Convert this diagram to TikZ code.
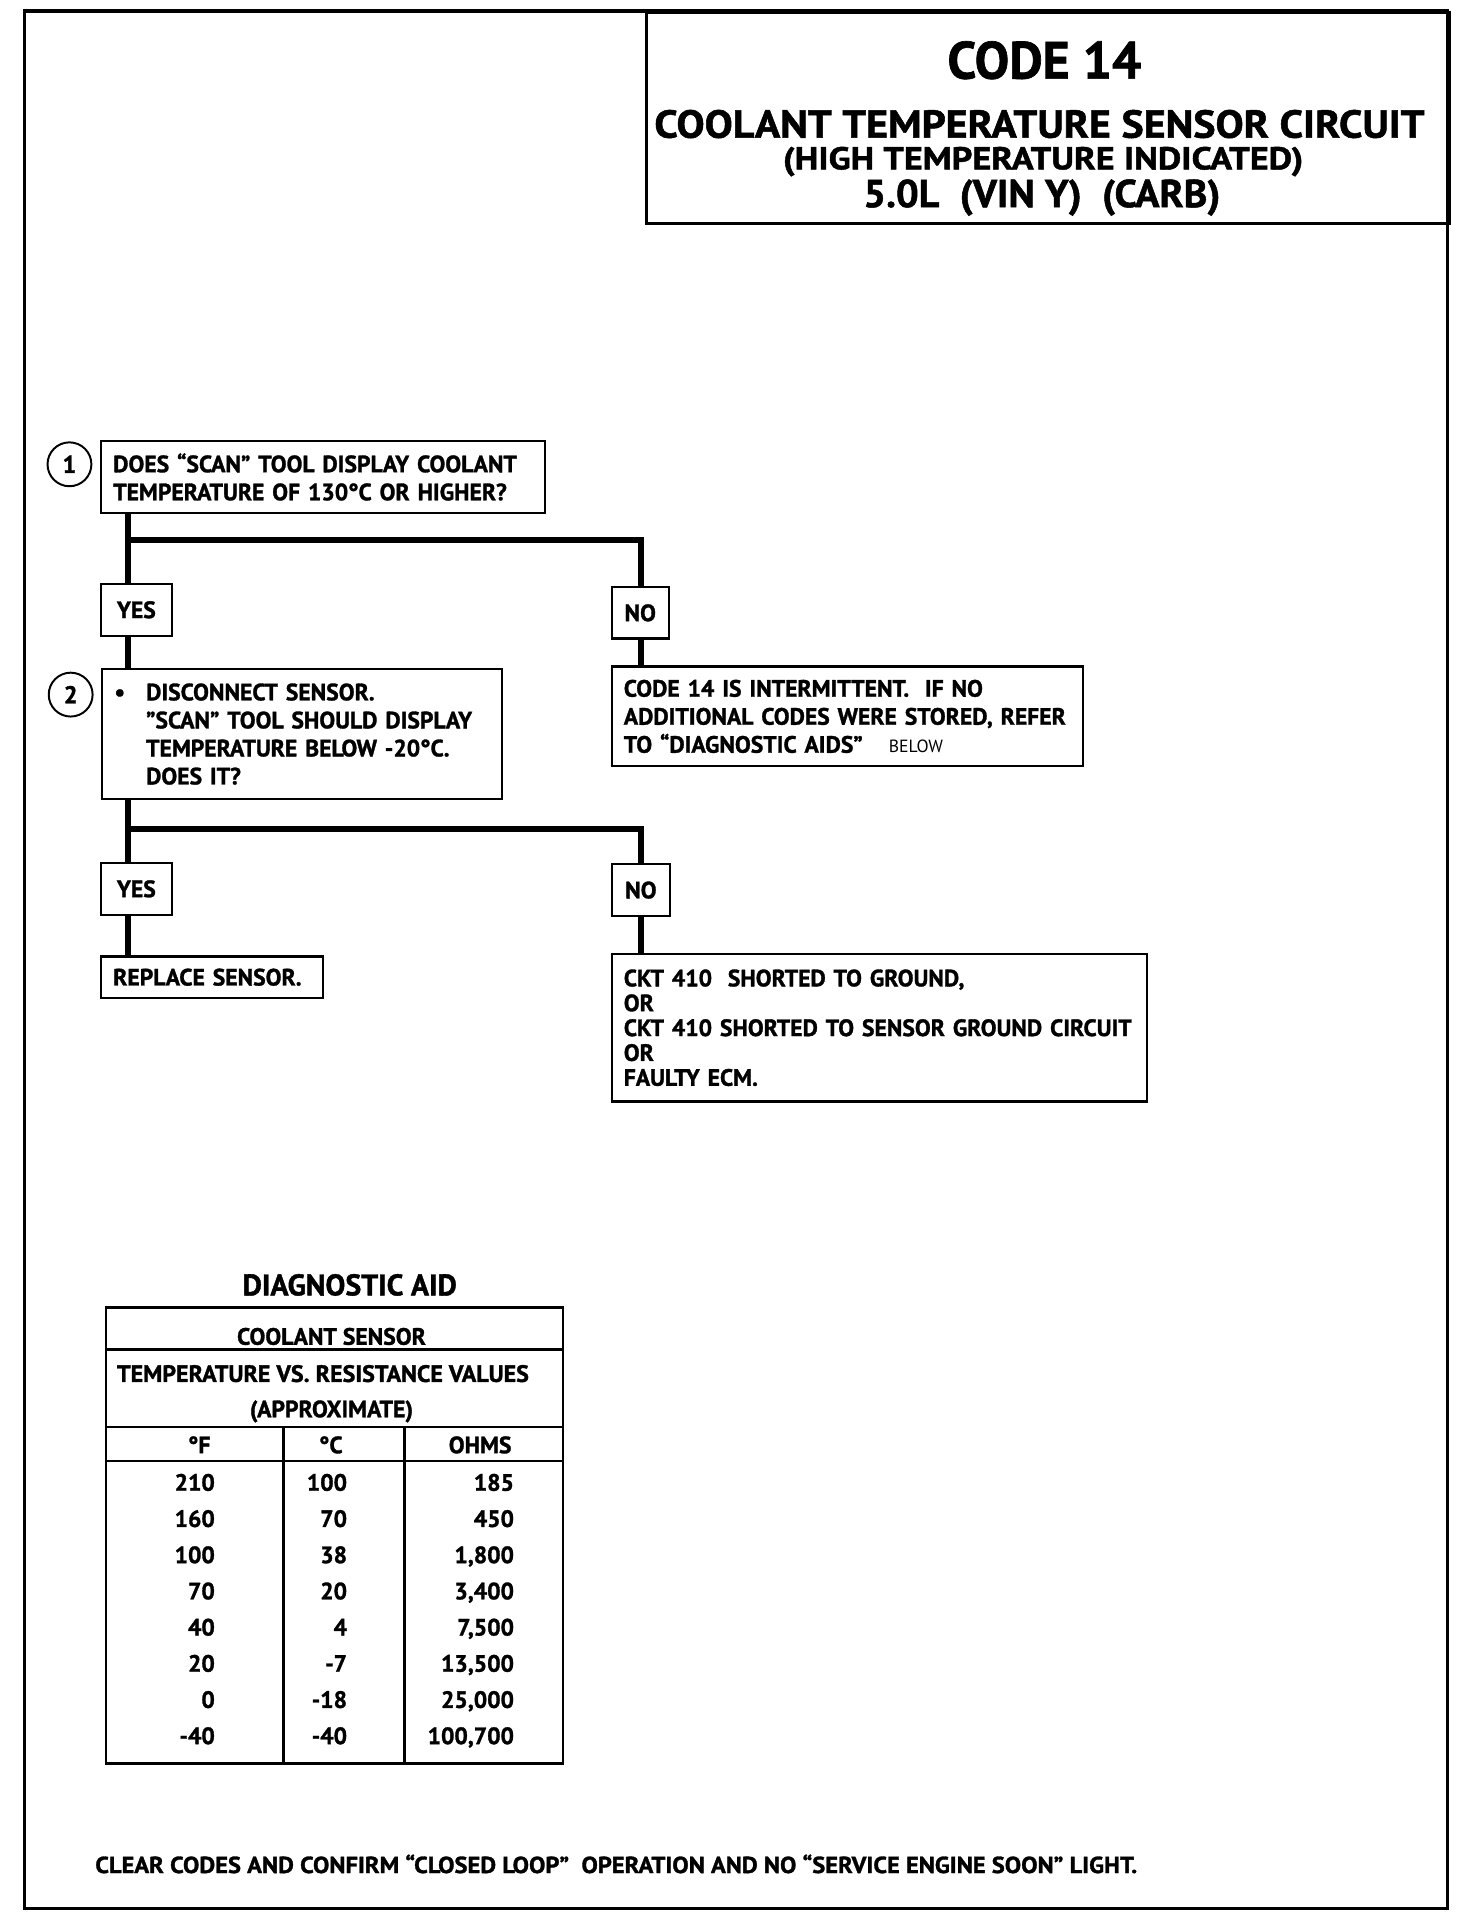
\documentclass[tikz,border=0pt]{standalone}
\usepackage{fontspec}
\usepackage{graphicx}
\setmainfont{PT Sans}[BoldFeatures={FakeBold=1.3}]
\newcommand\bodyf{\fontsize{19.4}{23}\selectfont\bfseries}
\newcommand\ckttf{\fontsize{19.4}{20.4}\selectfont\bfseries}
\newcommand\fitw[3]{\resizebox{#1}{\height}{\fontsize{#2}{#2}\selectfont\bfseries #3}}
\begin{document}
\begin{tikzpicture}[x=1pt,y=-1pt,
 box/.style={draw, line width=1.8pt, anchor=north west, inner xsep=10pt, inner ysep=0pt, align=left, font=\bodyf},
 tag/.style={draw, line width=1.8pt, anchor=north west, inner sep=0pt, font=\bodyf},
 num/.style={draw, circle, line width=1.6pt, minimum size=36pt, inner sep=0pt, font={\fontsize{20}{20}\selectfont\bfseries}},
 conn/.style={line width=5pt},
 frame/.style={line width=2.8pt},
 tline/.style={line width=2pt},
 cell/.style={font=\bodyf, anchor=base east, inner sep=0pt},
 hcell/.style={font=\bodyf, anchor=base, inner sep=0pt},
 ]
\useasboundingbox (0,0) rectangle (1208,1569);
\draw[frame] (20,9) rectangle (1188,1566);
% title block
\node[draw, frame, anchor=north west, minimum width=659pt, minimum height=173pt, inner sep=0pt] (title) at (529,9) {};
\node[anchor=base, inner sep=0pt] (t1) at (857,64.5) {\fitw{159pt}{43}{CODE 14}};
\node[anchor=base, inner sep=0pt] (t2) at (853,113) {\fitw{632pt}{32}{COOLANT TEMPERATURE SENSOR CIRCUIT}};
\node[anchor=base, inner sep=0pt] (t3) at (856,139) {\fitw{427pt}{26}{(HIGH TEMPERATURE INDICATED)}};
\node[anchor=base, inner sep=0pt] (t4) at (855,170) {\fitw{293pt}{32}{5.0L\ \ (VIN Y)\ \ (CARB)}};
% step 1
\node[num] (n1) at (57,381) {1};
\node[box, text width=344pt, minimum height=59pt] (q1) at (82,361)
 {DOES “SCAN” TOOL DISPLAY COOLANT\\TEMPERATURE OF 130°C OR HIGHER?};
\node[tag, minimum width=58pt, minimum height=43pt] (yes1) at (82,478) {YES};
\node[tag, minimum width=47pt, minimum height=42pt] (no1) at (501,481) {NO};
% step 2
\node[num] (n2) at (58,570) {2};
\node[box, text width=308pt, minimum height=107pt] (q2) at (83,548)
 {\makebox[26pt][l]{\textbullet}DISCONNECT SENSOR.\\\hspace*{26pt}”SCAN” TOOL SHOULD DISPLAY\\\hspace*{26pt}TEMPERATURE BELOW -20°C.\\\hspace*{26pt}DOES IT?};
\node[box, text width=367pt, minimum height=82pt] (r1) at (501,546)
 {CODE 14 IS INTERMITTENT.\ \ IF NO\\ADDITIONAL CODES WERE STORED, REFER\\TO “DIAGNOSTIC AIDS”\hspace{1.1em}{\mdseries\fontsize{14.5}{14.5}\selectfont BELOW}};
\node[tag, minimum width=58pt, minimum height=43pt] (yes2) at (82,707) {YES};
\node[tag, minimum width=48pt, minimum height=43pt] (no2) at (501,708) {NO};
\node[box, text width=162pt, minimum height=34pt] (a1) at (82,784) {REPLACE SENSOR.};
\node[box, font=\ckttf, text width=419pt, minimum height=121pt] (a2) at (501,782)
 {CKT 410\ \ SHORTED TO GROUND,\\OR\\CKT 410 SHORTED TO SENSOR GROUND CIRCUIT\\OR\\FAULTY ECM.};
% connectors
\coordinate (j1) at (105,443); \coordinate (k1) at (526,443);
\coordinate (j2) at (105,680); \coordinate (k2) at (526,680);
\draw[conn] (q1.south -| j1) -- (yes1.north -| j1);
\draw[conn] (j1) -- (k1) -- (no1.north -| k1);
\draw[conn] (yes1.south -| j1) -- (q2.north -| j1);
\draw[conn] (no1.south -| k1) -- (r1.north -| k1);
\draw[conn] (q2.south -| j2) -- (yes2.north -| j2);
\draw[conn] (j2) -- (k2) -- (no2.north -| k2);
\draw[conn] (yes2.south -| j2) -- (a1.north -| j2);
\draw[conn] (no2.south -| k2) -- (a2.north -| k2);
% diagnostic aid table
\node[anchor=base, inner sep=0pt, font={\fontsize{24.5}{24.5}\selectfont\bfseries}] (dtitle) at (287,1063) {DIAGNOSTIC AID};
\node[draw, tline, anchor=north west, minimum width=375pt, minimum height=374pt, inner sep=0pt] (tbl) at (86,1072) {};
\draw[tline] (86,1107.5) -- (461,1107.5);
\draw[tline] (86,1171) -- (461,1171);
\draw[tline] (86,1199) -- (461,1199);
\draw[tline] (232.5,1171) -- (232.5,1446);
\draw[tline] (332,1171) -- (332,1446);
\node[hcell] (h1) at (272,1103.5) {COOLANT SENSOR};
\node[hcell] (h2) at (265,1134) {\resizebox{338pt}{\height}{TEMPERATURE VS. RESISTANCE VALUES}};
\node[hcell] (h3) at (272,1163) {(APPROXIMATE)};
\node[hcell] (cf) at (163.5,1192.5) {°F};
\node[hcell] (cc) at (271.5,1192.5) {°C};
\node[hcell] (co) at (394,1192.5) {OHMS};
\foreach \f/\c/\o [count=\i from 0] in {210/100/185, 160/70/450, 100/38/{1,800}, 70/20/{3,400}, 40/4/{7,500}, 20/-7/{13,500}, 0/-18/{25,000}, -40/-40/{100,700}} {
  \node[cell] (f\i) at (176.5,1223.3+29.7*\i) {\f};
  \node[cell] (c\i) at (285,1223.3+29.7*\i) {\c};
  \node[cell] (o\i) at (422,1223.3+29.7*\i) {\o};
}
% footer
\node[anchor=base west, inner sep=0pt] (note) at (78,1537) {\fitw{855pt}{19}{CLEAR CODES AND CONFIRM “CLOSED LOOP”\ \ OPERATION AND NO “SERVICE ENGINE SOON” LIGHT.}};
\end{tikzpicture}
\end{document}
